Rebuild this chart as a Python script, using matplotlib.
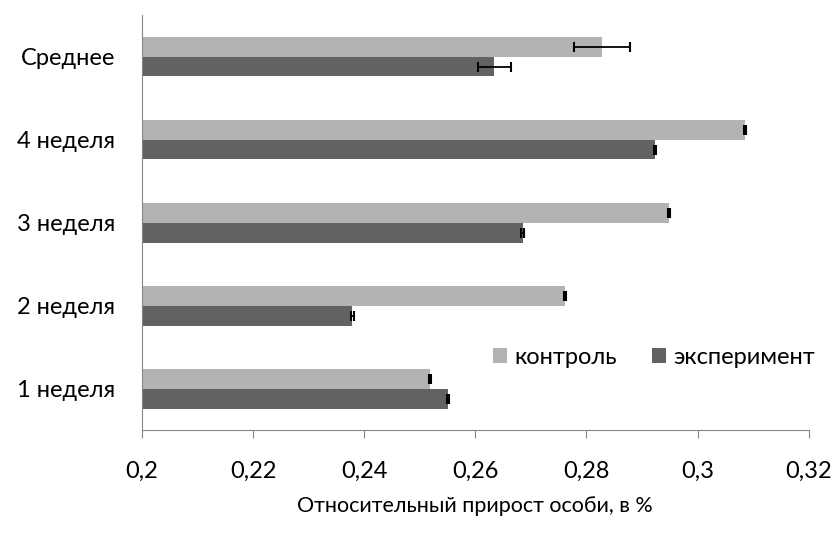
import matplotlib
matplotlib.use("Agg")
import matplotlib.pyplot as plt
import numpy as np

plt.rcParams['font.family'] = ['Lato', 'DejaVu Sans']

categories = ["1 неделя", "2 неделя", "3 неделя", "4 неделя", "Среднее"]
control = [0.2519, 0.2761, 0.2948, 0.3085, 0.2828]
control_err = [0.0002, 0.0002, 0.0002, 0.0002, 0.0051]
experiment = [0.2551, 0.2379, 0.2685, 0.2924, 0.2634]
experiment_err = [0.0002, 0.0002, 0.0002, 0.0002, 0.0030]
xticks = [0.2, 0.22, 0.24, 0.26, 0.28, 0.3, 0.32]
xtick_labels = ["0,2", "0,22", "0,24", "0,26", "0,28", "0,3", "0,32"]

fig = plt.figure(figsize=(8.39, 5.37), dpi=100)
ax = fig.add_axes([0.169, 0.199, 0.795, 0.773])

y = np.arange(len(categories))
h = 0.24
ekw = dict(ecolor="black", elinewidth=1.3, capsize=3.5, capthick=1.5)
ax.barh(y + h / 2, np.array(control) - 0.2, left=0.2, height=h, color="#b3b3b3",
        label="контроль", xerr=control_err, error_kw=ekw)
ax.barh(y - h / 2, np.array(experiment) - 0.2, left=0.2, height=h, color="#626262",
        label="эксперимент", xerr=experiment_err, error_kw=ekw)

ax.set_xlim(0.2, 0.32)
ax.set_ylim(-0.5, 4.5)
ax.set_xticks(xticks)
ax.set_xticklabels(xtick_labels, fontsize=17)
ax.set_yticks(y)
ax.set_yticklabels(categories, fontsize=17)
ax.tick_params(axis="y", length=0, pad=19)
ax.tick_params(axis="x", direction="out", length=6, color="#868686", pad=16)

for s in ["top", "right"]:
    ax.spines[s].set_visible(False)
for s in ["left", "bottom"]:
    ax.spines[s].set_color("#868686")

ax.set_xlabel("Относительный прирост особи, в %", fontsize=15.5, labelpad=10)

ax.legend(loc="center left", bbox_to_anchor=(0.526, 0.175), ncol=2, frameon=False,
          fontsize=17, handlelength=0.6, handleheight=0.6, handletextpad=0.3,
          columnspacing=1.5, borderpad=0, borderaxespad=0)

fig.savefig("out.png", dpi=100)
